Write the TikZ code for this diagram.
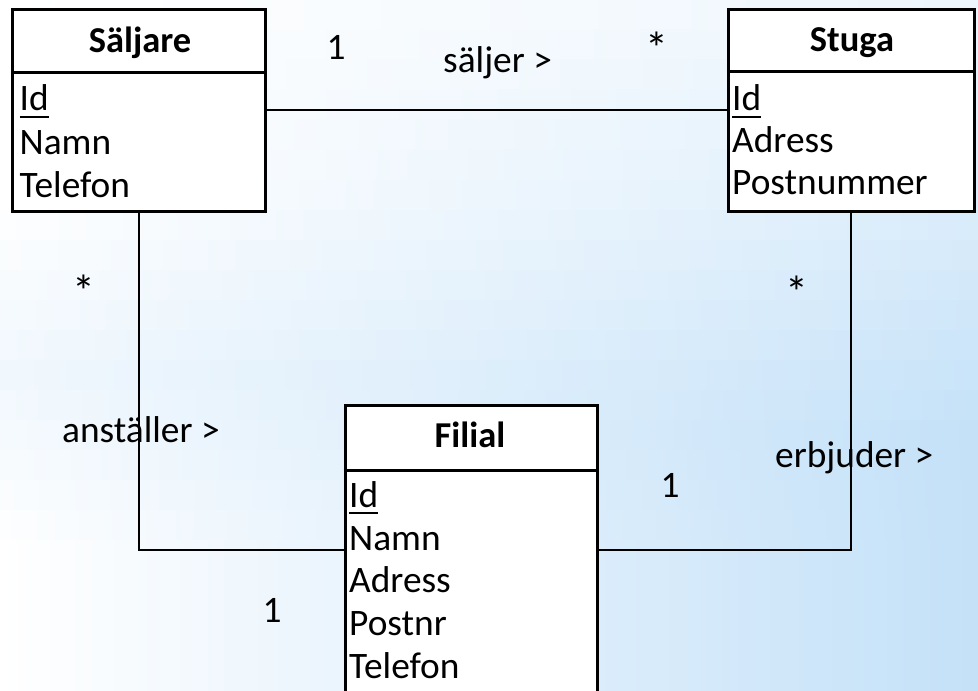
\documentclass[tikz,border=0pt]{standalone}
\usepackage{fontspec}
\setmainfont{Carlito}
\definecolor{bgblue}{RGB}{196,225,248}
\newcommand{\myul}[1]{\setbox0\hbox{#1}\rlap{\rule[-7bp]{\wd0}{2.4bp}}\box0}
\begin{document}
\begin{tikzpicture}[x=1bp,y=-1bp,
  box/.style={draw=black, line width=3bp, fill=white, inner sep=0, rectangle},
  divider/.style={draw=black, line width=3bp},
  conn/.style={draw=black, line width=2bp},
  lbl/.style={anchor=base, inner sep=0},
  star/.style={anchor=base, inner sep=0, font=\fontsize{46}{50}\selectfont},
  attr/.style={anchor=base west, inner sep=0},
  title/.style={anchor=base, inner sep=0, font=\fontsize{36.6}{44}\selectfont\bfseries}]
\fontsize{37.5}{45}\selectfont
\path[use as bounding box, clip] (0,0) rectangle (978,691);
% background: horizontal strips, each shaded left to right
\foreach \i in {0,...,22}{
  \pgfmathsetmacro{\la}{max(0,24-abs(\i-12)*4)}
  \pgfmathsetmacro{\ma}{max(0,min(50,(\i-8)*4.5))}
  \pgfmathsetmacro{\ra}{min(100,30+\i*5)}
  \shade[left color=bgblue!\la!white, middle color=bgblue!\ma!white,
         right color=bgblue!\ra!white, shading angle=90]
    (0,\i*30) rectangle (978,\i*30+30.5);
}

% boxes
\node[box, minimum width=252.5bp, minimum height=201bp] (S) at (139.25,110.5) {};
\node[box, minimum width=245.7bp, minimum height=201bp] (T) at (851.2,110.5) {};
\node[box, minimum width=252bp, minimum height=315bp] (F) at (471,562.5) {};

\draw[divider] (S.west |- 0,72.7) -- (S.east |- 0,72.7);
\draw[divider] (T.west |- 0,72) -- (T.east |- 0,72);
\draw[divider] (F.west |- 0,470) -- (F.east |- 0,470);

% titles and attributes
\node[title] (St) at (140,53) {Säljare};
\node[attr] (S1) at (19.5,111) {\myul{Id}};
\node[attr] (S2) at (19.5,155) {Namn};
\node[attr] (S3) at (19.5,197) {Telefon};

\node[title] (Tt) at (852,52) {Stuga};
\node[attr] (T1) at (732,111) {\myul{Id}};
\node[attr] (T2) at (732,153) {Adress};
\node[attr] (T3) at (732,195) {Postnummer};

\node[title] (Ft) at (470,447) {Filial};
\node[attr] (F1) at (349,507) {\myul{Id}};
\node[attr] (F2) at (349,550) {Namn};
\node[attr] (F3) at (349,592) {Adress};
\node[attr] (F4) at (349,635) {Postnr};
\node[attr] (F5) at (349,678) {Telefon};

% connectors
\coordinate (FL) at (F.west |- 0,550);
\coordinate (FR) at (F.east |- 0,550);
\draw[conn] (S.east) -- (T.west);
\draw[conn] (S.south) |- (FL);
\draw[conn] (T.south) |- (FR);

% labels
\node[lbl] (m1) at (336,60) {1};
\node[attr] (r1) at (443,73) {säljer >};
\node[star] (m2) at (657,65) {*};
\node[star] (m3) at (84,307) {*};
\node[attr] (r2) at (62,442) {anställer >};
\node[lbl] (m4) at (272,622) {1};
\node[star] (m5) at (797,308) {*};
\node[attr] (r3) at (775,467) {erbjuder >};
\node[lbl] (m6) at (670,497) {1};
\end{tikzpicture}
\end{document}
